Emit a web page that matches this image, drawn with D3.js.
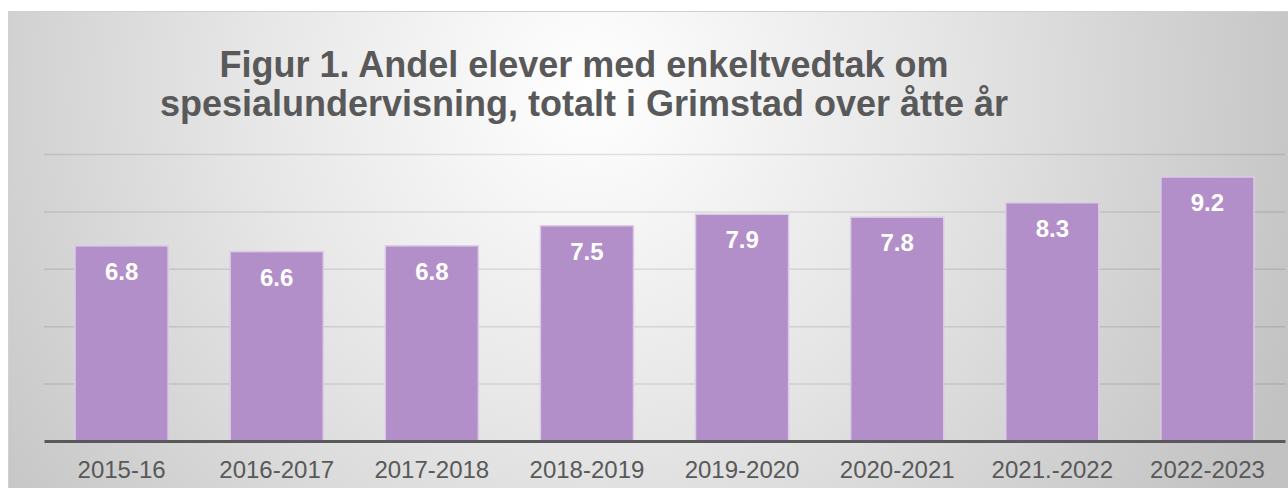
<!DOCTYPE html>
<html>
<head>
<meta charset="utf-8">
<script src="https://cdn.jsdelivr.net/npm/d3@7"></script>
<style>
  body { margin: 0; background: #fff; }
  svg { display: block; font-family: "Liberation Sans", Arial, sans-serif; }
</style>
</head>
<body>
<div id="chart"></div>
<script>
const years = ['2015-16', '2016-2017', '2017-2018', '2018-2019', '2019-2020', '2020-2021', '2021.-2022', '2022-2023'];
const shares = [6.8, 6.6, 6.8, 7.5, 7.9, 7.8, 8.3, 9.2];
const gridTicks = [0, 2, 4, 6, 8, 10];
const titleLines = ['Figur 1. Andel elever med enkeltvedtak om', 'spesialundervisning, totalt i Grimstad over åtte år'];

const width = 1288;
const height = 488;
const margins = { top: 154, right: 3, bottom: 47, left: 44 };
const visWidth = width - margins.left - margins.right;
const visHeight = height - margins.top - margins.bottom;

const svg = d3.select('#chart').append('svg')
    .attr('width', width)
    .attr('height', height);

const defs = svg.append('defs');
const bg = defs.append('radialGradient')
    .attr('id', 'bg')
    .attr('gradientUnits', 'userSpaceOnUse')
    .attr('cx', 590).attr('cy', 90)
    .attr('r', 760);
bg.append('stop').attr('offset', '0%').attr('stop-color', '#ffffff');
bg.append('stop').attr('offset', '45%').attr('stop-color', '#e6e6e6');
bg.append('stop').attr('offset', '100%').attr('stop-color', '#c2c2c2');

// chart area with border
svg.append('rect')
    .attr('x', 8.5).attr('y', 11.5)
    .attr('width', width + 10).attr('height', height + 10)
    .attr('fill', 'url(#bg)')
    .attr('stroke', '#d0d0d0')
    .attr('stroke-width', 1);

// title
svg.append('g').selectAll('text')
    .data(titleLines)
    .enter()
    .append('text')
    .attr('x', 584)
    .attr('y', (d, i) => 77 + i * 39)
    .attr('text-anchor', 'middle')
    .attr('font-size', 36)
    .attr('font-weight', 'bold')
    .attr('fill', '#595959')
    .text(d => d);

const viewport = svg.append('g')
    .attr('transform', `translate(${margins.left},${margins.top})`);

const x = d3.scaleBand()
    .domain(years)
    .range([0, visWidth])
    .paddingInner(0.4)
    .paddingOuter(0.2);

const y = d3.scaleLinear()
    .domain([0, 10])
    .range([visHeight, 0]);

// gridlines
viewport.append('g')
    .attr('class', 'grid')
    .call(d3.axisLeft(y).tickValues(gridTicks.slice(1)).tickSize(-visWidth).tickFormat(''))
    .call(g => g.select('.domain').remove())
    .call(g => g.selectAll('line').attr('stroke', '#000').attr('stroke-opacity', 0.1).attr('stroke-width', 1.5));

// bars
viewport.selectAll('rect.bar')
    .data(shares)
    .enter()
    .append('rect')
    .attr('class', 'bar')
    .attr('x', (d, i) => x(years[i]))
    .attr('y', d => y(d))
    .attr('width', x.bandwidth())
    .attr('height', d => visHeight - y(d))
    .attr('fill', '#b38fc9')
    .attr('stroke', '#dccbe6')
    .attr('stroke-width', 1.5);

// value labels
viewport.selectAll('text.value')
    .data(shares)
    .enter()
    .append('text')
    .attr('class', 'value')
    .attr('x', (d, i) => x(years[i]) + x.bandwidth() / 2)
    .attr('y', d => y(d) + 34)
    .attr('text-anchor', 'middle')
    .attr('font-size', 24)
    .attr('font-weight', 'bold')
    .attr('fill', '#ffffff')
    .text(d => d.toFixed(1));

// x axis
const xAxis = viewport.append('g')
    .attr('transform', `translate(0,${visHeight})`)
    .call(d3.axisBottom(x).tickSize(0).tickPadding(20));
xAxis.select('.domain')
    .attr('stroke', '#595959')
    .attr('stroke-width', 3);
xAxis.selectAll('text')
    .attr('font-size', 24)
    .attr('font-family', '"Liberation Sans", Arial, sans-serif')
    .attr('fill', '#595959');
</script>
</body>
</html>
